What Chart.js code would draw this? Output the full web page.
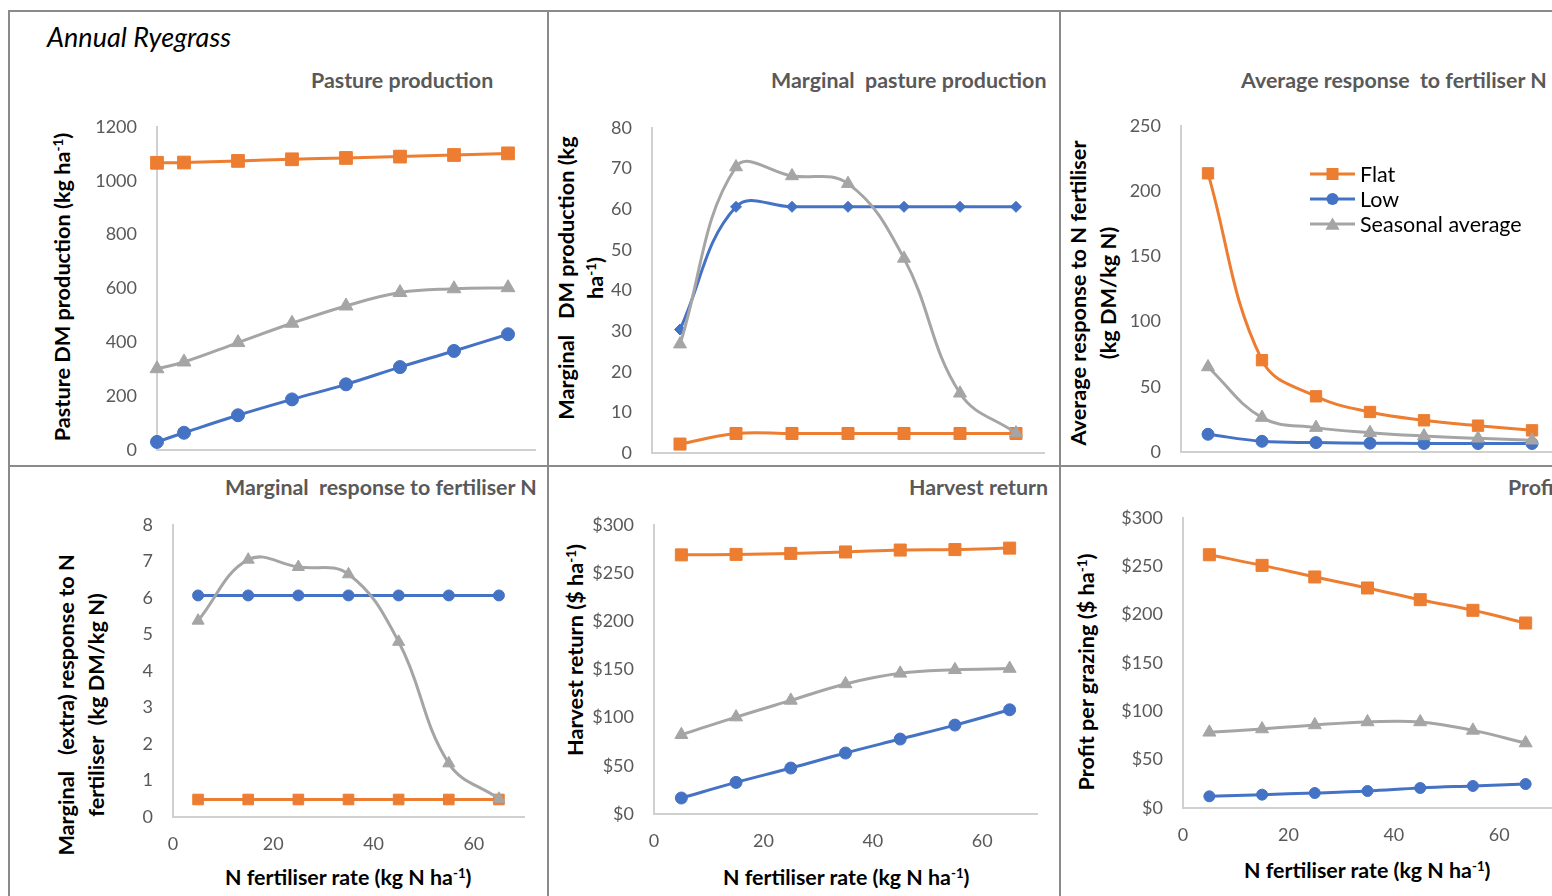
<!DOCTYPE html>
<html>
<head>
<meta charset="utf-8">
<script src="https://cdn.jsdelivr.net/npm/chart.js@4/dist/chart.umd.min.js"></script>
<style>
  html, body { margin: 0; padding: 0; background: #fff; }
  body { position: relative; width: 1552px; height: 896px; overflow: hidden; font-family: Lato, "Open Sans", sans-serif; }
  .rule { position: absolute; background: #8a8a8a; }
  .txt { position: absolute; white-space: pre; }
  .sup { font-size: 0.62em; position: relative; top: -0.5em; line-height: 0; }
  canvas { position: absolute; }
</style>
</head>
<body>
<script>
// ---- Series -------------------------------------------------------------
const seriesNames = ['Flat', 'Low', 'Seasonal average'];
const seriesColors = ['#ED7D31', '#4472C4', '#A5A5A5'];

// N fertiliser rate (kg N/ha)
const nRateProduction = [0, 5, 15, 25, 35, 45, 55, 65];
const nRate = [5, 15, 25, 35, 45, 55, 65];

// Pasture DM production (kg/ha)
const pastureFlat = [1067, 1068, 1074, 1080, 1085, 1090, 1096, 1102];
const pastureLow = [30, 64, 129, 188, 244, 308, 368, 430];
const pastureSeasonal = [302, 327, 399, 471, 535, 585, 599, 603];

// Marginal DM production (kg/ha)
const marginalDmFlat = [2.2, 4.8, 4.8, 4.8, 4.8, 4.8, 4.8];
const marginalDmLow = [30.4, 60.6, 60.6, 60.6, 60.6, 60.6, 60.6];
const marginalDmSeasonal = [26.8, 70.4, 68.2, 66.3, 47.9, 14.7, 4.9];

// Average response to N fertiliser (kg DM/kg N)
const avgResponseFlat = [213.7, 70.4, 42.7, 30.7, 24.3, 20.2, 16.6];
const avgResponseLow = [13.6, 8.2, 7.2, 6.8, 6.6, 6.5, 6.5];
const avgResponseSeasonal = [65.2, 26.4, 18.7, 14.8, 12.3, 10.5, 9.0];

// Marginal (extra) response to N fertiliser (kg DM/kg N)
const marginalRespFlat = [0.48, 0.48, 0.48, 0.48, 0.48, 0.48, 0.48];
const marginalRespLow = [6.07, 6.07, 6.07, 6.07, 6.07, 6.07, 6.07];
const marginalRespSeasonal = [5.38, 7.05, 6.85, 6.65, 4.8, 1.47, 0.5];

// Harvest return ($/ha)
const harvestFlat = [269, 269.5, 270.5, 272, 274, 274.5, 276];
const harvestLow = [16.6, 32.8, 47.7, 63.3, 77.8, 92.3, 108.2];
const harvestSeasonal = [82.3, 100.6, 117.9, 135, 146, 149.7, 151];

// Profit per grazing ($/ha)
const profitFlat = [262, 251, 239, 227.6, 215.5, 204.5, 191.4];
const profitLow = [12.1, 13.8, 15.5, 17.6, 20.7, 22.8, 24.8];
const profitSeasonal = [78.3, 81.7, 85.9, 89, 89, 80.3, 67.2];

// Axis ranges
const rateMax = 70, rateStep = 20;

// ---- Page furniture -----------------------------------------------------
const FONT = 'Lato, "Open Sans", sans-serif';
const TICK_COLOR = '#595959';

function rule(left, top, width, height) {
  const d = document.createElement('div');
  d.className = 'rule';
  Object.assign(d.style, { left: left + 'px', top: top + 'px', width: width + 'px', height: height + 'px' });
  document.body.appendChild(d);
}
rule(8, 10, 1544, 2);      // top
rule(8, 10, 2, 886);       // left
rule(8, 465, 1544, 2);     // row divider
rule(547, 10, 2, 886);     // column divider 1
rule(1059, 10, 2, 886);    // column divider 2

function text(html, o) {
  const d = document.createElement('div');
  d.className = 'txt';
  d.innerHTML = html;
  d.style.font = o.font;
  d.style.color = o.color || '#000';
  d.style.lineHeight = (o.lh || 26) + 'px';
  if (o.align) d.style.textAlign = o.align;
  document.body.appendChild(d);
  const w = d.offsetWidth, h = d.offsetHeight;
  if (o.rotate) {
    d.style.left = (o.cx - w / 2) + 'px';
    d.style.top = (o.cy - h / 2) + 'px';
    d.style.transform = 'rotate(-90deg)';
  } else {
    const left = o.cx !== undefined ? o.cx - w / 2 : (o.right !== undefined ? o.right - w : o.left);
    d.style.left = left + 'px';
    d.style.top = (o.cy - h / 2) + 'px';
  }
  return d;
}

const PANEL_TITLE = `bold 21.4px ${FONT}`;
const AXIS_TITLE = `bold 21.7px ${FONT}`;
const X_TITLE_FONT = `bold 21.4px ${FONT}`;
const HA = 'ha<span class="sup">-1</span>';

text('Annual Ryegrass', { left: 47, cy: 37, font: `italic 27px ${FONT}`, lh: 30 });

text('Pasture production', { right: 493, cy: 80, font: PANEL_TITLE, color: '#595959' });
text('Marginal  pasture production', { right: 1046, cy: 80, font: PANEL_TITLE, color: '#595959' });
text('Average response  to fertiliser N', { right: 1547, cy: 80, font: PANEL_TITLE, color: '#595959' });
text('Marginal  response to fertiliser N', { right: 537, cy: 487, font: PANEL_TITLE, color: '#595959' });
text('Harvest return', { right: 1048, cy: 487, font: PANEL_TITLE, color: '#595959' });
text('Profit per grazing', { left: 1508, cy: 487, font: PANEL_TITLE, color: '#595959' });

text(`Pasture DM production (kg ${HA})`, { cx: 62, cy: 287, font: AXIS_TITLE, rotate: true });
text(`Marginal   DM production (kg<br>${HA})`, { cx: 580, cy: 278, font: AXIS_TITLE, rotate: true, lh: 29, align: 'center' });
text('Average response to N fertiliser<br>(kg DM/kg N)', { cx: 1092, cy: 293, font: AXIS_TITLE, rotate: true, lh: 30, align: 'center' });
text('Marginal   (extra) response to N<br>fertiliser  (kg DM/kg N)', { cx: 80, cy: 705, font: AXIS_TITLE, rotate: true, lh: 30, align: 'center' });
text(`Harvest return ($ ${HA})`, { cx: 575, cy: 650, font: AXIS_TITLE, rotate: true });
text(`Profit per grazing ($ ${HA})`, { cx: 1085, cy: 672, font: AXIS_TITLE, rotate: true });

const X_TITLE = `N fertiliser rate (kg N ${HA})`;
text(X_TITLE, { cx: 348, cy: 877, font: X_TITLE_FONT });
text(X_TITLE, { cx: 846, cy: 877, font: X_TITLE_FONT });
text(X_TITLE, { cx: 1367, cy: 870, font: X_TITLE_FONT });

// ---- Legend drawn inside the plot area ---------------------------------
function drawMarker(ctx, style, x, y, size, color) {
  ctx.fillStyle = color;
  ctx.beginPath();
  if (style === 'rect') {
    ctx.rect(x - size / 2, y - size / 2, size, size);
  } else if (style === 'circle') {
    ctx.arc(x, y, size / 2, 0, Math.PI * 2);
  } else {
    ctx.moveTo(x, y - size * 0.5);
    ctx.lineTo(x + size * 0.55, y + size * 0.45);
    ctx.lineTo(x - size * 0.55, y + size * 0.45);
    ctx.closePath();
  }
  ctx.fill();
}

const insideLegend = {
  id: 'insideLegend',
  afterDatasetsDraw(chart, args, opts) {
    if (!opts || !opts.display) return;
    const ctx = chart.ctx;
    ctx.save();
    opts.items.forEach((item, i) => {
      const y = opts.y + i * opts.rowGap;
      ctx.strokeStyle = item.color;
      ctx.lineWidth = 3;
      ctx.beginPath();
      ctx.moveTo(opts.x, y);
      ctx.lineTo(opts.x + opts.lineLength, y);
      ctx.stroke();
      drawMarker(ctx, item.style, opts.x + opts.lineLength / 2, y, item.size, item.color);
      ctx.fillStyle = '#000';
      ctx.font = opts.font;
      ctx.textBaseline = 'middle';
      ctx.textAlign = 'left';
      ctx.fillText(item.label, opts.x + opts.lineLength + opts.gap, y + 1);
    });
    ctx.restore();
  }
};

// ---- Panels -------------------------------------------------------------
const panels = [
  { x: nRateProduction, series: [pastureFlat, pastureLow, pastureSeasonal], yMax: 1200, yStep: 200,
    box: { x0: 157, x1: 535, top: 127, bottom: 450 }, radii: [9, 6.5, 8], showX: false },
  { x: nRate, series: [marginalDmFlat, marginalDmLow, marginalDmSeasonal], yMax: 80, yStep: 10,
    box: { x0: 652, x1: 1044, top: 128, bottom: 453 }, radii: [8.5, 5.5, 7.5], lowStyle: 'rectRot', showX: false },
  { x: nRate, series: [avgResponseFlat, avgResponseLow, avgResponseSeasonal], yMax: 250, yStep: 50,
    box: { x0: 1181, x1: 1559, top: 126, bottom: 452 }, radii: [8, 6, 7.5], showX: false, legend: true },
  { x: nRate, series: [marginalRespFlat, marginalRespLow, marginalRespSeasonal], yMax: 8, yStep: 1,
    box: { x0: 173, x1: 524, top: 525, bottom: 817 }, radii: [7.5, 5.5, 7], showX: true },
  { x: nRate, series: [harvestFlat, harvestLow, harvestSeasonal], yMax: 300, yStep: 50, money: true,
    box: { x0: 654, x1: 1037, top: 525, bottom: 814 }, radii: [8.5, 6, 7.5], showX: true },
  { x: nRate, series: [profitFlat, profitLow, profitSeasonal], yMax: 300, yStep: 50, money: true,
    box: { x0: 1183, x1: 1552, top: 518, bottom: 808 }, radii: [8.5, 5.5, 7.5], showX: true }
];

Chart.defaults.font.family = FONT;

panels.forEach(p => {
  const yW = 80, padTop = 16, padRight = 16, xH = p.showX ? 50 : 16;
  const b = p.box;
  const width = yW + (b.x1 - b.x0) + padRight;
  const height = padTop + (b.bottom - b.top) + xH;
  const canvas = document.createElement('canvas');
  canvas.width = width;
  canvas.height = height;
  canvas.style.left = (b.x0 - yW) + 'px';
  canvas.style.top = (b.top - padTop) + 'px';
  canvas.style.width = width + 'px';
  canvas.style.height = height + 'px';
  document.body.appendChild(canvas);

  const styles = ['rect', p.lowStyle || 'circle', 'triangle'];
  const datasets = p.series.map((vals, i) => ({
    label: seriesNames[i],
    data: vals.map((v, k) => ({ x: p.x[k], y: v })),
    borderColor: seriesColors[i],
    backgroundColor: seriesColors[i],
    pointBackgroundColor: seriesColors[i],
    pointBorderColor: seriesColors[i],
    borderWidth: 3,
    tension: 0.4,
    pointStyle: styles[i],
    pointRadius: p.radii[i],
    pointBorderWidth: 1,
    clip: false,
    order: 3 - i
  }));

  const legendOpts = p.legend ? {
    display: true,
    x: 1310 - (b.x0 - yW), y: 174 - (b.top - padTop), rowGap: 25, lineLength: 45, gap: 5,
    font: `21.5px ${FONT}`,
    items: seriesNames.map((n, i) => ({ label: n, color: seriesColors[i], style: ['rect', 'circle', 'triangle'][i], size: [12, 12, 13][i] }))
  } : { display: false };

  new Chart(canvas, {
    type: 'line',
    data: { datasets },
    options: {
      responsive: false,
      animation: false,
      devicePixelRatio: 1,
      layout: { padding: 0 },
      plugins: { legend: { display: false }, tooltip: { enabled: false }, insideLegend: legendOpts },
      scales: {
        x: {
          type: 'linear', min: 0, max: rateMax,
          grid: { display: false, drawTicks: false },
          border: { display: true, color: '#d0d0d0', width: 2 },
          ticks: { display: p.showX, stepSize: rateStep, includeBounds: false, padding: 16,
                   color: TICK_COLOR, font: { size: 18, family: FONT } },
          afterFit: s => { s.height = xH; s.paddingLeft = 0; s.paddingRight = padRight; }
        },
        y: {
          min: 0, max: p.yMax,
          grid: { display: false, drawTicks: false },
          border: { display: true, color: '#d0d0d0', width: 2 },
          ticks: { stepSize: p.yStep, padding: 20, color: TICK_COLOR, font: { size: 18, family: FONT },
                   callback: v => p.money ? '$' + v : String(v) },
          afterFit: s => { s.width = yW; s.paddingTop = padTop; s.paddingBottom = 0; }
        }
      }
    },
    plugins: [insideLegend]
  });
});
</script>
</body>
</html>
